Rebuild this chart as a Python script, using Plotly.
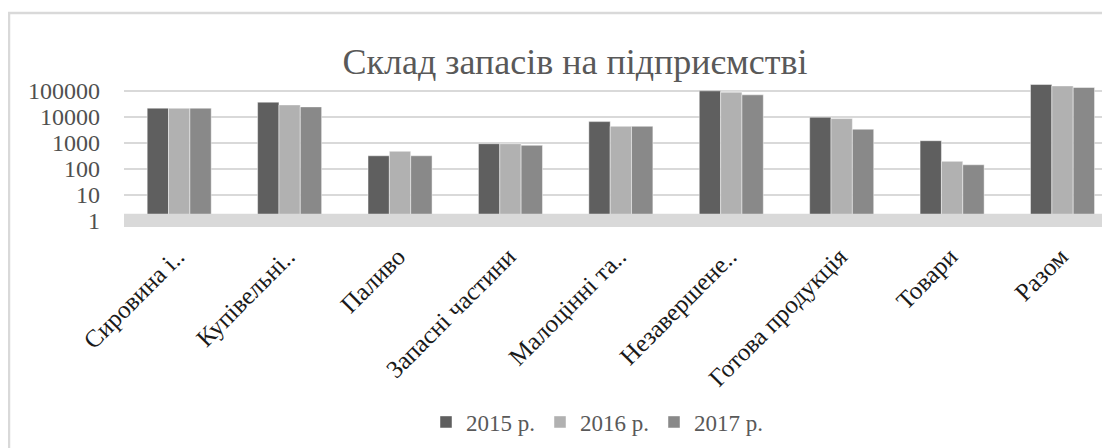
import plotly.graph_objects as go

categories = ["Сировина і..", "Купівельні..", "Паливо", "Запасні частини",
              "Малоцінні та..", "Незавершене..", "Готова продукція", "Товари", "Разом"]
y2015 = [22000, 37400, 320, 935, 6650, 102000, 9800, 1220, 179000]
y2016 = [21800, 29300, 477, 935, 4380, 91000, 8700, 195, 158000]
y2017 = [21900, 24600, 320, 810, 4380, 71600, 3380, 144, 137000]
series_names = ["2015 р.", "2016 р.", "2017 р."]
series_colors = ["#5f5f5f", "#b1b1b1", "#898989"]
tick_vals = [1, 10, 100, 1000, 10000, 100000]
tick_text = ["1", "10", "100", "1000", "10000", "100000"]

W, H = 1102, 440  # page body has an 8px margin
FONT = "Times New Roman"

fig = go.Figure()
for name, vals, col in zip(series_names, [y2015, y2016, y2017], series_colors):
    fig.add_trace(go.Bar(x=categories, y=vals, name=name,
                         marker=dict(color=col, line=dict(color="rgba(255,255,255,0.45)", width=1))))

fig.update_layout(
    width=W, height=H,
    margin=dict(l=116, r=0, t=74, b=221, autoexpand=False),
    paper_bgcolor="white", plot_bgcolor="white",
    barmode="group", bargap=0.42, bargroupgap=0,
    font=dict(family=FONT, color="#404040"),
    title=dict(text="Склад запасів на підприємстві", x=567 / W, xref="container",
               xanchor="center", y=1 - 53 / H, yref="container", yanchor="middle",
               font=dict(family=FONT, size=36, color="#595959")),
    legend=dict(orientation="h", x=589 / W, xref="container", xanchor="center",
                y=1 - 414 / H, yref="container", yanchor="middle",
                font=dict(family=FONT, size=23, color="#595959"),
                itemwidth=30, traceorder="normal", bgcolor="rgba(0,0,0,0)"),
    showlegend=True,
)
fig.update_xaxes(range=[-0.5, 8.43], tickangle=-45, showgrid=False, showline=False,
                 ticks="", automargin=False, ticklabelstandoff=9, ticklabelshift=-2,
                 tickfont=dict(family=FONT, size=25, color="#1a1a1a"))
fig.update_yaxes(type="log", range=[-0.24, 5.35], tickvals=tick_vals, ticktext=tick_text,
                 showgrid=True, gridcolor="#d9d9d9", gridwidth=1.5, zeroline=False,
                 showline=False, ticks="", ticklabelstandoff=23, automargin=False,
                 tickfont=dict(family=FONT, size=24, color="#505050"))

# floor band (data values on the log axis)
fig.add_shape(type="rect", xref="paper", yref="y", x0=0, x1=1, y0=10 ** -0.24, y1=10 ** 0.27,
              fillcolor="#d9d9d9", line=dict(width=0), layer="above")
# chart border
fig.add_shape(type="rect", xref="paper", yref="paper", x0=(1 - 116) / 986, x1=1.05,
              y0=-2.0, y1=(219 - 5) / 145, line=dict(color="#d9d9d9", width=2.5),
              fillcolor="rgba(0,0,0,0)", layer="below")

fig.write_html("out.html")
